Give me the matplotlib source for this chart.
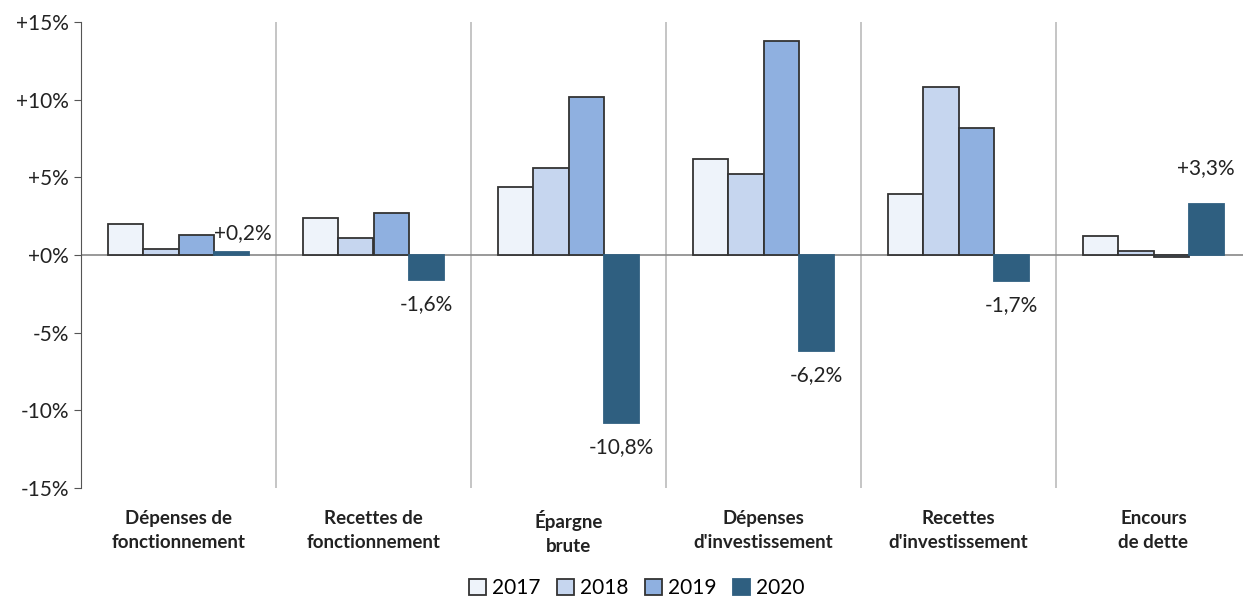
import numpy as np
import matplotlib.pyplot as plt
from matplotlib.ticker import FuncFormatter

plt.rcParams['font.family'] = ['Lato', 'DejaVu Sans']

categories = ["Dépenses de\nfonctionnement", "Recettes de\nfonctionnement", "Épargne\nbrute",
              "Dépenses\nd'investissement", "Recettes\nd'investissement", "Encours\nde dette"]
years = ["2017", "2018", "2019", "2020"]
v2017 = [2.0, 2.4, 4.4, 6.2, 3.9, 1.2]
v2018 = [0.4, 1.1, 5.6, 5.2, 10.8, 0.25]
v2019 = [1.3, 2.7, 10.2, 13.8, 8.2, -0.1]
v2020 = [0.2, -1.6, -10.8, -6.2, -1.7, 3.3]
labels2020 = ["+0,2%", "-1,6%", "-10,8%", "-6,2%", "-1,7%", "+3,3%"]

colors = ["#EEF3FA", "#C6D6EF", "#8FB0E0", "#2F5F80"]
edges = ["#333333", "#333333", "#333333", "#2F5F80"]

fig = plt.figure(figsize=(12.43, 5.99), dpi=100)
ax = fig.add_axes([81 / 1243, 111 / 599, 1162 / 1243, 466 / 599])

x = np.arange(len(categories))
w = 0.18
series = [v2017, v2018, v2019, v2020]
bars = []
for i, vals in enumerate(series):
    b = ax.bar(x + (i - 1.5) * w, vals, w, color=colors[i], edgecolor=edges[i],
               linewidth=1.3, label=years[i], zorder=3)
    bars.append(b)

for j, rect in enumerate(bars[3]):
    cx = rect.get_x() + rect.get_width() / 2
    v = v2020[j]
    if j == 0:
        ax.annotate(labels2020[j], (cx, v), xytext=(-12, 6), textcoords='offset points',
                    ha='left', va='bottom', fontsize=15, color='#222222')
    elif v >= 0:
        ax.annotate(labels2020[j], (cx, 3.5), xytext=(0, 16), textcoords='offset points',
                    ha='center', va='bottom', fontsize=15, color='#222222')
    else:
        ax.annotate(labels2020[j], (cx, v), xytext=(0, -10), textcoords='offset points',
                    ha='center', va='top', fontsize=15, color='#222222')

ax.set_xlim(-0.5, -0.5 + 1162 / 195)
ax.set_ylim(-15, 15)
ax.set_yticks([-15, -10, -5, 0, 5, 10, 15])
ax.yaxis.set_major_formatter(FuncFormatter(lambda v, p: f"{v:+.0f}%" if v != 0 else "+0%"))
ax.tick_params(axis='y', labelsize=15, length=5, color='#555555', labelcolor='#222222')
ax.set_xticks(x)
ax.set_xticklabels(categories, fontsize=13.5, fontweight='bold', color='#222222', linespacing=1.45)
ax.tick_params(axis='x', length=0, pad=16)

for s in ['top', 'right', 'bottom']:
    ax.spines[s].set_visible(False)
ax.spines['left'].set_color('#555555')
ax.axhline(0, color='#888888', linewidth=1.2, zorder=2)
for sep in x[:-1] + 0.5:
    ax.axvline(sep, color='#BBBBBB', linewidth=1.2, zorder=1)

fig.legend(loc='center', bbox_to_anchor=(637 / 1243, 1 - 588 / 599), ncol=4, frameon=False,
           fontsize=15, handlelength=0.8, handleheight=0.8, handletextpad=0.3, columnspacing=0.8)

fig.savefig("out.png", dpi=100)
